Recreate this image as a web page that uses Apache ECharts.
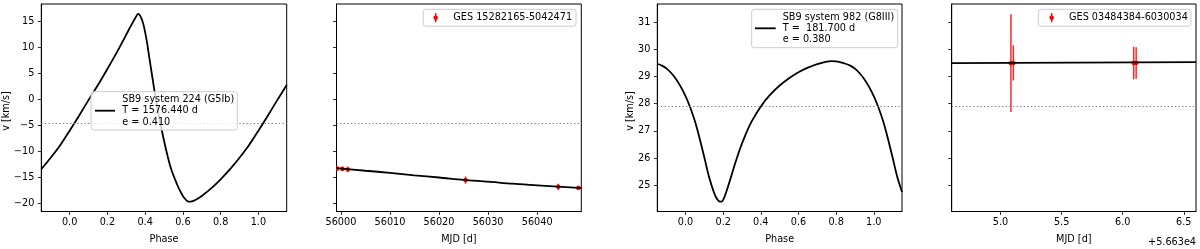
<!DOCTYPE html>
<html>
<head>
<meta charset="utf-8">
<script src="https://cdn.jsdelivr.net/npm/echarts@6/dist/echarts.min.js"></script>
<style>
html,body{margin:0;padding:0;background:#fff;}
#c{width:1200px;height:249px;}
</style>
</head>
<body>
<div id="c"></div>
<script>
// ---------- Panel 1: SB9 system 224 model vs phase ----------
const phase1 = [-0.15,-0.10,-0.05,0.00,0.05,0.10,0.15,0.20,0.25,0.30,0.32,0.34,0.35,0.362,0.37,0.38,0.39,0.40,0.41,0.42,0.43,0.44,0.45,0.46,0.47,0.48,0.49,0.50,0.51,0.52,0.53,0.54,0.55,0.56,0.57,0.58,0.59,0.60,0.61,0.62,0.63,0.64,0.66,0.68,0.70,0.75,0.80,0.85,0.90,0.95,1.00,1.05,1.10,1.15];
const v1     = [-13.4,-11.2,-8.8,-6.0,-3.1,-0.1,2.8,5.9,9.1,12.5,13.9,15.2,15.85,16.5,16.35,15.7,14.6,13.0,11.0,8.6,6.25,3.9,1.6,-0.6,-2.6,-4.4,-6.2,-7.9,-9.5,-11.0,-12.4,-13.6,-14.6,-15.5,-16.4,-17.2,-17.9,-18.55,-19.05,-19.45,-19.65,-19.65,-19.45,-19.05,-18.55,-17.1,-15.35,-13.4,-11.2,-8.8,-6.0,-3.1,-0.1,2.8];
const gamma1 = -4.5;

// ---------- Panel 2: GES 15282165-5042471 ----------
const modelMjd2 = [55999.1,56005,56010,56015,56020,56025,56030,56035,56040,56045,56049.0];
const modelV2   = [-13.2,-13.7,-14.1,-14.6,-15.0,-15.45,-15.8,-16.2,-16.5,-16.8,-17.05];
const obsMjd2   = [55999.2,56000.3,56001.4,56025.4,56044.3,56048.4];
const obsV2     = [-13.3,-13.35,-13.45,-15.5,-16.8,-17.0];
const obsErr2   = [0.45,0.4,0.55,0.7,0.6,0.35];

// ---------- Panel 3: SB9 system 982 model vs phase ----------
const phase3 = [-0.15,-0.125,-0.10,-0.075,-0.05,-0.025,0.00,0.025,0.05,0.075,0.10,0.125,0.15,0.165,0.18,0.19,0.20,0.215,0.235,0.26,0.29,0.32,0.35,0.40,0.45,0.50,0.55,0.60,0.65,0.70,0.75,0.775,0.80,0.825,0.85,0.875,0.90,0.925,0.95,0.975,1.00,1.025,1.05,1.075,1.10,1.125,1.15];
const v3     = [29.47,29.40,29.29,29.12,28.90,28.62,28.28,27.86,27.35,26.72,26.02,25.30,24.75,24.52,24.40,24.39,24.46,24.72,25.15,25.72,26.35,26.88,27.33,27.90,28.33,28.67,28.94,29.16,29.33,29.46,29.55,29.57,29.56,29.52,29.47,29.40,29.29,29.12,28.90,28.62,28.28,27.86,27.35,26.72,26.02,25.30,24.75];
const gamma3 = 27.91;

// ---------- Panel 4: GES 03484384-6030034 ----------
const modelMjd4 = [56634.6,56636.6];
const modelV4   = [29.49,29.53];
const obsMjd4   = [56635.085,56635.105,56636.09,56636.11];
const obsV4     = [29.49,29.5,29.5,29.5];
const obsErr4   = [1.8,0.65,0.6,0.58];

// ---------- tick labels ----------
const phaseTicks = [0.0,0.2,0.4,0.6,0.8,1.0];
const vTicks1 = [-20,-15,-10,-5,0,5,10,15];
const mjdTicks2 = [56000,56010,56020,56030,56040];
const vTicks3 = [25,26,27,28,29,30,31];
const mjdTicks4 = [56635.0,56635.5,56636.0,56636.5];
const mjdOffset4 = 56630;

const FONT = 'DejaVu Sans';
const FS = 9.7;
const grids = [
  {left:41.3, top:4, width:245.4, height:214.3},
  {left:336.5, top:4, width:244.8, height:214.3},
  {left:657.3, top:4, width:244.7, height:214.3},
  {left:951.7, top:4, width:244.3, height:214.3}
].map(g => Object.assign({show:true, borderColor:'#000', borderWidth:1, backgroundColor:'transparent', containLabel:false}, g));

function xAx(idx, min, max, ticks, name, fmt){
  return {
    type:'value', gridIndex:idx, min:min, max:max,
    name:name, nameLocation:'middle', nameGap:22.5,
    nameTextStyle:{fontFamily:FONT, fontSize:FS, color:'#000'},
    axisLine:{show:true, onZero:false, lineStyle:{color:'#000', width:1}},
    axisTick:{show:true, length:3.5, customValues:ticks, lineStyle:{color:'#000', width:0.8}},
    axisLabel:{show:true, margin:6, customValues:ticks, fontFamily:FONT, fontSize:FS, color:'#000',
      formatter: fmt || (v => v.toFixed(1))},
    splitLine:{show:false}
  };
}
function yAx(idx, min, max, ticks, showLabels){
  return {
    type:'value', gridIndex:idx, min:min, max:max,
    axisLine:{show:true, onZero:false, lineStyle:{color:'#000', width:1}},
    axisTick:{show:true, length:3.5, customValues:ticks, lineStyle:{color:'#000', width:0.8}},
    axisLabel:{show:showLabels, margin:7, customValues:ticks, fontFamily:FONT, fontSize:FS, color:'#000',
      formatter: v => String(v).replace('-', '\u2212')},
    splitLine:{show:false}
  };
}

const yMin1 = -21.55, yMax1 = 18.41;
const yMin3 = 24.03, yMax3 = 31.67;

function zip(a,b){ return a.map((x,i)=>[x,b[i]]); }
function zip3(a,b,c){ return a.map((x,i)=>[x,b[i],c[i]]); }

function errRender(params, api){
  const x = api.value(0), y = api.value(1), e = api.value(2);
  const t = api.coord([x, y+e]), b = api.coord([x, y-e]), c = api.coord([x, y]);
  return {type:'group', children:[
    {type:'line', shape:{x1:t[0], y1:t[1], x2:b[0], y2:b[1]}, style:{stroke:'#ff0000', lineWidth:1.5, opacity:0.85}},
    {type:'circle', shape:{cx:c[0], cy:c[1], r:2.3}, style:{fill:'#ff0000'}}
  ]};
}

function dotted(val){
  return {silent:true, symbol:'none', label:{show:false},
    lineStyle:{color:'#777', type:[1.3,2.3], width:1.2},
    data:[{yAxis:val}]};
}

const series = [
  {type:'line', xAxisIndex:0, yAxisIndex:0, data:zip(phase1,v1), showSymbol:false, smooth:0.25,
   lineStyle:{color:'#000', width:1.8}, markLine:dotted(gamma1), z:3},
  {type:'custom', xAxisIndex:1, yAxisIndex:1, data:zip3(obsMjd2,obsV2,obsErr2), renderItem:errRender, z:2, clip:true},
  {type:'line', xAxisIndex:1, yAxisIndex:1, data:zip(modelMjd2,modelV2), showSymbol:false, smooth:0.3,
   lineStyle:{color:'#000', width:1.8}, markLine:dotted(gamma1), z:3},
  {type:'line', xAxisIndex:2, yAxisIndex:2, data:zip(phase3,v3), showSymbol:false, smooth:0.25,
   lineStyle:{color:'#000', width:1.8}, markLine:dotted(gamma3), z:3},
  {type:'custom', xAxisIndex:3, yAxisIndex:3, data:zip3(obsMjd4,obsV4,obsErr4), renderItem:errRender, z:2, clip:true},
  {type:'line', xAxisIndex:3, yAxisIndex:3, data:zip(modelMjd4,modelV4), showSymbol:false,
   lineStyle:{color:'#000', width:1.8}, markLine:dotted(gamma3), z:3}
];

function legendBox(x,y,w,h){
  return {type:'rect', shape:{x:x,y:y,width:w,height:h,r:2.5},
    style:{fill:'rgba(255,255,255,0.8)', stroke:'#cccccc', lineWidth:1}, z:100};
}
function txt(x,y,s,align,rot){
  const o = {type:'text', x:x, y:y, z:101,
    style:{text:s, fontFamily:FONT, fontSize:FS, fill:'#000', align:align||'left', verticalAlign:'middle'}};
  if (rot) o.rotation = rot;
  return o;
}
function lineH(x1,x2,y){
  return {type:'line', z:101, shape:{x1:x1,y1:y,x2:x2,y2:y}, style:{stroke:'#000', lineWidth:1.8}};
}
function errH(x,y){
  return {type:'group', z:101, children:[
    {type:'line', z:101, shape:{x1:x,y1:y-4.5,x2:x,y2:y+4.5}, style:{stroke:'#ff0000', lineWidth:1.5}},
    {type:'circle', z:101, shape:{cx:x,cy:y,r:2.3}, style:{fill:'#ff0000'}}
  ]};
}

const graphic = [
  legendBox(91,91.7,146.3,38.3),
  lineH(95,115,110.7),
  txt(122.3,99.6,'SB9 system 224 (G5Ib)'),
  txt(122.3,110.9,'T = 1576.440 d'),
  txt(122.3,122.2,'e = 0.410'),
  legendBox(423.3,9.3,152.7,16.9),
  errH(435.7,17.7),
  txt(453.3,17.9,'GES 15282165-5042471'),
  legendBox(751.7,9.3,146,38.4),
  lineH(755,775.7,28.3),
  txt(782.7,17.2,'SB9 system 982 (G8III)'),
  txt(782.7,28.5,'T =  181.700 d'),
  txt(782.7,39.8,'e = 0.380'),
  legendBox(1038.3,9.3,152.7,16.9),
  errH(1051.7,17.7),
  txt(1069,17.9,'GES 03484384-6030034'),
  txt(6,111,'v [km/s]','center',Math.PI/2),
  txt(630,111,'v [km/s]','center',Math.PI/2),
  txt(1196,242.5,'+5.663e4','right')
];

const chart = echarts.init(document.getElementById('c'), null, {renderer:'canvas'});
chart.setOption({
  animation:false,
  backgroundColor:'#fff',
  grid:grids,
  xAxis:[
    xAx(0,-0.15,1.15,phaseTicks,'Phase'),
    xAx(1,55999.1,56049.0,mjdTicks2,'MJD [d]', v => String(Math.round(v))),
    xAx(2,-0.15,1.15,phaseTicks,'Phase'),
    xAx(3,56634.6,56636.6,mjdTicks4,'MJD [d]', v => (v - mjdOffset4).toFixed(1))
  ],
  yAxis:[
    yAx(0,yMin1,yMax1,vTicks1,true),
    yAx(1,yMin1,yMax1,vTicks1,false),
    yAx(2,yMin3,yMax3,vTicks3,true),
    yAx(3,yMin3,yMax3,vTicks3,false)
  ],
  series:series,
  graphic:graphic
});
</script>
</body>
</html>
